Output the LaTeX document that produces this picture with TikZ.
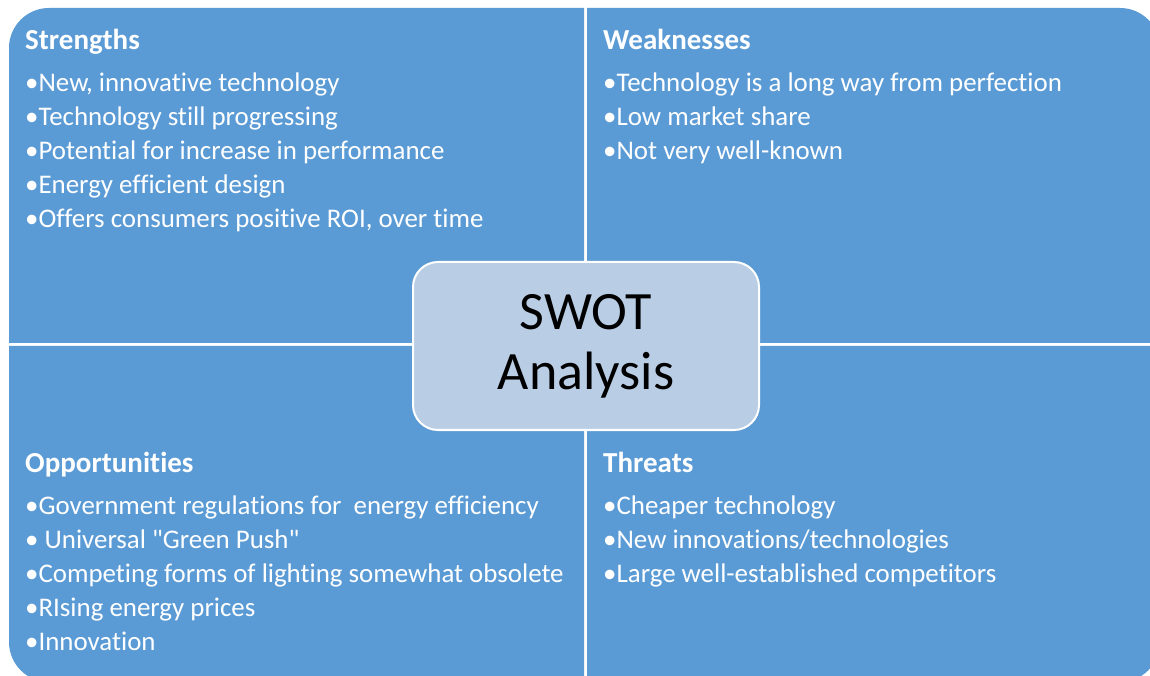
\documentclass[tikz,border=0pt]{standalone}
\usepackage{fontspec}
\setmainfont{Carlito}[Ligatures={NoCommon}]
\definecolor{quadblue}{RGB}{91,155,213}
\definecolor{centerblue}{RGB}{185,205,229}
\tikzset{
  quad/.style={fill=quadblue},
  head/.style={font=\fontsize{29}{34}\selectfont\bfseries, text=white, anchor=base west, inner sep=0pt},
  item/.style={font=\fontsize{26.9}{34}\selectfont, text=white, anchor=base west, inner sep=0pt},
  centerbox/.style={fill=centerblue, draw=white, line width=2pt, rounded corners=25pt,
     minimum width=346pt, minimum height=168pt, align=center,
     font=\fontsize{54}{60}\selectfont, text=black}
}
\begin{document}
\begin{tikzpicture}[x=1pt,y=1pt]
\useasboundingbox (0,0) rectangle (1150,675);
\clip (0,0) rectangle (1150,675);
\fill[white] (0,0) rectangle (1150,675);
% quadrants
\fill[quad] (9,332) -- (9,627) arc[start angle=180,end angle=90,radius=40] -- (584,667) -- (584,332) -- cycle;
\fill[quad] (587,332) -- (587,667) -- (1120,667) arc[start angle=90,end angle=0,radius=40] -- (1160,332) -- cycle;
\fill[quad] (584,329) -- (9,329) -- (9,33) arc[start angle=180,end angle=270,radius=40] -- (584,-7) -- cycle;
\fill[quad] (587,329) -- (1160,329) -- (1160,33) arc[start angle=0,end angle=-90,radius=40] -- (587,-7) -- cycle;
% headings
\node[head] (hs) at (25,625) {Strengths};
\node[head] (hw) at (603,625) {Weaknesses};
\node[head] (ho) at (25,203) {Opportunities};
\node[head] (ht) at (603,203) {Threats};
% strengths
\node[item] (s1) at (25,583) {•New, innovative technology};
\node[item] (s2) at (25,549) {•Technology still progressing};
\node[item] (s3) at (25,515) {•Potential for increase in performance};
\node[item] (s4) at (25,481) {•Energy efficient design};
\node[item] (s5) at (25,447) {•Offers consumers positive ROI, over time};
% weaknesses
\node[item] (w1) at (603,583) {•Technology is a long way from perfection};
\node[item] (w2) at (603,549) {•Low market share};
\node[item] (w3) at (603,515) {•Not very well-known};
% opportunities
\node[item] (o1) at (25,161) {•Government regulations for\ \ energy efficiency};
\node[item] (o2) at (25,127) {•\ Universal \textquotedbl Green Push\textquotedbl};
\node[item] (o3) at (25,93) {•Competing forms of lighting somewhat obsolete};
\node[item] (o4) at (25,59) {•RIsing energy prices};
\node[item] (o5) at (25,25) {•Innovation};
% threats
\node[item] (t1) at (603,161) {•Cheaper technology};
\node[item] (t2) at (603,127) {•New innovations/technologies};
\node[item] (t3) at (603,93) {•Large well-established competitors};
% center
\node[centerbox] (swot) at (586,329) {SWOT\\Analysis};
\end{tikzpicture}
\end{document}
